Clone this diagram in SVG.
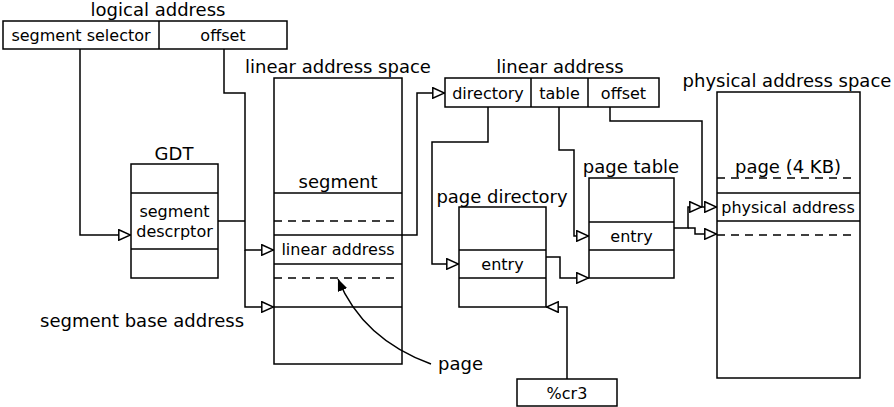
<svg xmlns="http://www.w3.org/2000/svg" width="894" height="407" viewBox="0 0 894 407">
  <style>
    .box { fill: #fff; stroke: #000; stroke-width: 1.5; }
    .ln { fill: none; stroke: #000; stroke-width: 1.5; }
    .dash { fill: none; stroke: #000; stroke-width: 1.5; stroke-dasharray: 8 6; }
    .wire { fill: none; stroke: #000; stroke-width: 1.5; }
    .lbl { font-family: "DejaVu Sans", sans-serif; font-size: 18px; fill: #000; }
    .txt { font-family: "DejaVu Sans", sans-serif; font-size: 16px; fill: #000; }
    .c { text-anchor: middle; }
  </style>
  <defs>
    <marker id="open" viewBox="0 0 13 12" refX="13" refY="6" markerWidth="13" markerHeight="12" markerUnits="userSpaceOnUse" orient="auto">
      <path d="M0.8,0.8 L12.5,6 L0.8,11.2 Z" fill="#fff" stroke="#000" stroke-width="1.5"/>
    </marker>
    <marker id="solid" viewBox="0 0 12 10" refX="12" refY="5" markerWidth="12" markerHeight="10" markerUnits="userSpaceOnUse" orient="auto">
      <path d="M0,0 L12,5 L0,10 Z" fill="#000"/>
    </marker>
  </defs>

  <!-- logical address -->
  <g id="logical-address">
    <text class="lbl c" x="158" y="16">logical address</text>
    <rect class="box" x="3" y="21" width="284" height="28"/>
    <line class="ln" x1="159" y1="21" x2="159" y2="49"/>
    <text class="txt c" x="81" y="41">segment selector</text>
    <text class="txt c" x="223" y="41">offset</text>
  </g>

  <!-- GDT -->
  <g id="gdt">
    <text class="lbl c" x="174" y="160">GDT</text>
    <rect class="box" x="131" y="164" width="87" height="114"/>
    <line class="ln" x1="131" y1="193" x2="218" y2="193"/>
    <line class="ln" x1="131" y1="249" x2="218" y2="249"/>
    <text class="txt c" x="174.5" y="217">segment</text>
    <text class="txt c" x="174.5" y="237">descrptor</text>
  </g>

  <!-- linear address space -->
  <g id="linear-space">
    <text class="lbl c" x="338" y="73">linear address space</text>
    <rect class="box" x="274" y="78" width="128" height="286"/>
    <text class="lbl c" x="338" y="188">segment</text>
    <line class="ln" x1="274" y1="193" x2="402" y2="193"/>
    <line class="dash" x1="274" y1="221" x2="396" y2="221"/>
    <line class="ln" x1="274" y1="235" x2="402" y2="235"/>
    <text class="txt c" x="338" y="255">linear address</text>
    <line class="ln" x1="274" y1="264" x2="402" y2="264"/>
    <line class="dash" x1="274" y1="278" x2="396" y2="278"/>
    <line class="ln" x1="274" y1="307" x2="402" y2="307"/>
  </g>

  <text id="segment-base-label" class="lbl" x="40" y="327">segment base address</text>

  <!-- linear address -->
  <g id="linear-address">
    <text class="lbl c" x="560" y="73">linear address</text>
    <rect class="box" x="445" y="78" width="214" height="29"/>
    <line class="ln" x1="531" y1="78" x2="531" y2="107"/>
    <line class="ln" x1="588" y1="78" x2="588" y2="107"/>
    <text class="txt c" x="488" y="99">directory</text>
    <text class="txt c" x="559.5" y="99">table</text>
    <text class="txt c" x="623.5" y="99">offset</text>
  </g>

  <!-- page directory -->
  <g id="page-directory">
    <text class="lbl c" x="502" y="203">page directory</text>
    <rect class="box" x="459" y="207" width="87" height="100"/>
    <line class="ln" x1="459" y1="250" x2="546" y2="250"/>
    <line class="ln" x1="459" y1="278" x2="546" y2="278"/>
    <text class="txt c" x="502.5" y="270">entry</text>
  </g>

  <!-- page table -->
  <g id="page-table">
    <text class="lbl c" x="631" y="173">page table</text>
    <rect class="box" x="589" y="178" width="85" height="100"/>
    <line class="ln" x1="589" y1="222" x2="674" y2="222"/>
    <line class="ln" x1="589" y1="250" x2="674" y2="250"/>
    <text class="txt c" x="631.5" y="242">entry</text>
  </g>

  <!-- physical address space -->
  <g id="physical-space">
    <text class="lbl c" x="787" y="87">physical address space</text>
    <rect class="box" x="717" y="92" width="143" height="286"/>
    <text class="lbl c" x="788" y="173">page (4 KB)</text>
    <line class="dash" x1="717" y1="178" x2="855" y2="178"/>
    <line class="ln" x1="717" y1="193" x2="860" y2="193"/>
    <text class="txt c" x="788" y="213">physical address</text>
    <line class="ln" x1="717" y1="221" x2="860" y2="221"/>
    <line class="dash" x1="717" y1="235" x2="855" y2="235"/>
  </g>

  <!-- cr3 register -->
  <g id="cr3">
    <rect class="box" x="517" y="379" width="100" height="27"/>
    <text class="txt c" x="567" y="399">%cr3</text>
  </g>

  <text id="page-label" class="lbl" x="438" y="370">page</text>

  <!-- connectors -->
  <g id="connectors">
    <path class="wire" d="M80,49 V235 H131" marker-end="url(#open)"/>
    <path class="wire" d="M224,49 V93 H245 V250 H274" marker-end="url(#open)"/>
    <path class="wire" d="M245,250 V307 H274" marker-end="url(#open)"/>
    <path class="wire" d="M218,221 H245"/>
    <path class="wire" d="M402,235 H417 V93 H445" marker-end="url(#open)"/>
    <path class="wire" d="M488,107 V142 H432 V264 H459" marker-end="url(#open)"/>
    <path class="wire" d="M559,107 V150 H574 V236 H589" marker-end="url(#open)"/>
    <path class="wire" d="M610,107 V121 H702 V207 H717" marker-end="url(#open)"/>
    <path class="wire" d="M546,257 H560 V278 H589" marker-end="url(#open)"/>
    <path class="wire" d="M674,228 H688 V207 H702" marker-end="url(#open)"/>
    <path class="wire" d="M688,228 H695 V234 H717" marker-end="url(#open)"/>
    <path class="wire" d="M567,379 V307 H546" marker-end="url(#open)"/>
    <path class="wire" d="M431,364 C398,352 358,328 338,279" marker-end="url(#solid)"/>
  </g>
</svg>
